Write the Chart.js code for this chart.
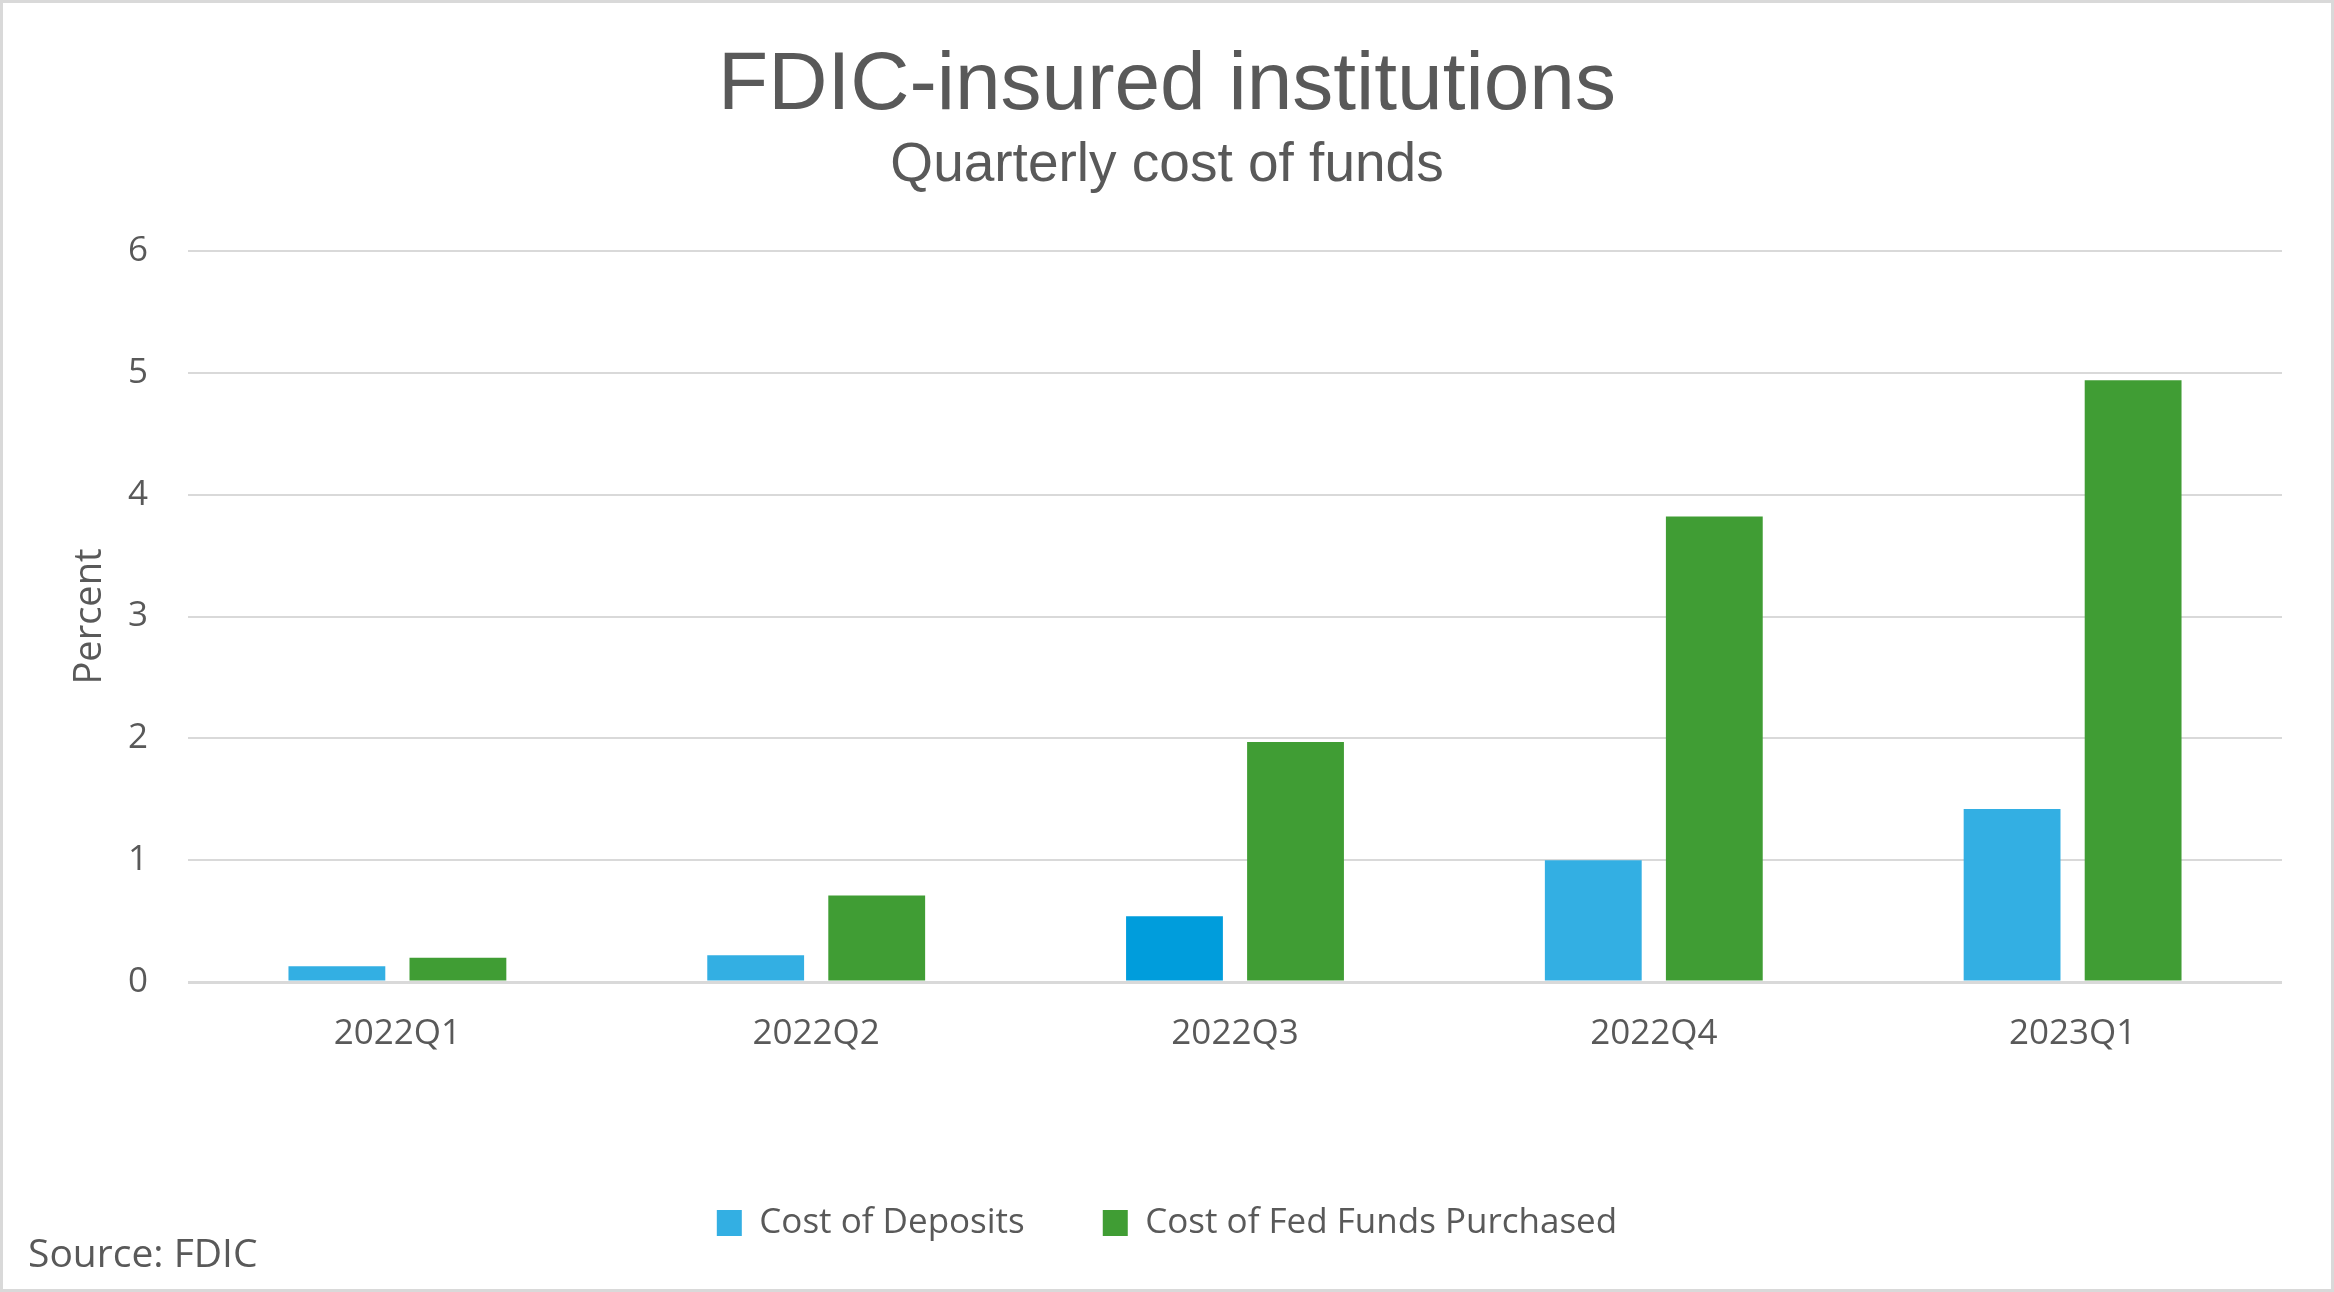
<!DOCTYPE html>
<html>
<head>
<meta charset="utf-8">
<script src="https://cdn.jsdelivr.net/npm/chart.js@4/dist/chart.umd.min.js"></script>
<style>
  html, body { margin: 0; padding: 0; background: #ffffff; }
  canvas { display: block; }
</style>
</head>
<body>
<canvas id="c" width="2334" height="1292"></canvas>
<script>
const categories = ['2022Q1', '2022Q2', '2022Q3', '2022Q4', '2023Q1'];
const costOfDeposits = [0.13, 0.22, 0.54, 1.00, 1.42];
const costOfFedFunds = [0.20, 0.71, 1.97, 3.82, 4.94];
const depositColors = ['#33AFE3', '#33AFE3', '#009DDC', '#33AFE3', '#33AFE3'];
const seriesNames = ['Cost of Deposits', 'Cost of Fed Funds Purchased'];

const textColor = '#595959';
const gridColor = '#d9d9d9';

const framePlugin = {
  id: 'frame',
  beforeDraw(chart) {
    const ctx = chart.ctx;
    ctx.save();
    ctx.fillStyle = '#ffffff';
    ctx.fillRect(0, 0, chart.width, chart.height);
    ctx.restore();
  },
  afterDraw(chart) {
    const ctx = chart.ctx;
    ctx.save();
    ctx.strokeStyle = gridColor;
    ctx.lineWidth = 3;
    ctx.strokeRect(1.5, 1.5, chart.width - 3, chart.height - 3);
    ctx.fillStyle = textColor;
    ctx.font = '39px "Open Sans"';
    ctx.textBaseline = 'middle';
    ctx.textAlign = 'left';
    ctx.fillText('Source: FDIC', 28, 1256);
    ctx.restore();
  }
};

new Chart(document.getElementById('c'), {
  type: 'bar',
  data: {
    labels: categories,
    datasets: [
      { label: seriesNames[0], data: costOfDeposits, backgroundColor: depositColors, borderWidth: 0, yAxisID: 'y' },
      { label: seriesNames[1], data: costOfFedFunds, backgroundColor: '#409D34', borderWidth: 0, yAxisID: 'y' }
    ]
  },
  options: {
    responsive: false,
    animation: false,
    devicePixelRatio: 1,
    categoryPercentage: 0.578,
    barPercentage: 0.8,
    layout: { padding: { left: 0, right: 0, top: 0, bottom: 41.5 } },
    plugins: {
      title: {
        display: true,
        text: 'FDIC-insured institutions',
        color: textColor,
        font: { family: '"Liberation Sans", Arial, sans-serif', size: 82, weight: 'normal', lineHeight: 1 },
        padding: { top: 45, bottom: 10 }
      },
      subtitle: {
        display: true,
        text: 'Quarterly cost of funds',
        color: textColor,
        font: { family: '"Liberation Sans", Arial, sans-serif', size: 55, weight: 'normal', lineHeight: 1 },
        padding: { top: 1, bottom: 58 }
      },
      legend: {
        display: true,
        position: 'bottom',
        labels: {
          color: textColor,
          font: { family: '"Open Sans"', size: 35 },
          boxWidth: 25,
          boxHeight: 26,
          padding: 78
        }
      },
      tooltip: { enabled: false }
    },
    scales: {
      x: {
        grid: { display: false, drawTicks: false },
        border: { display: false },
        ticks: { color: textColor, font: { family: '"Open Sans"', size: 35 }, padding: 31 },
        afterFit(scale) { scale.height = 145.5; }
      },
      y: {
        position: 'left',
        min: 0,
        max: 6,
        grid: {
          color: gridColor,
          lineWidth: (ctx) => (ctx.tick && ctx.tick.value === 0 ? 3 : 2),
          drawTicks: false
        },
        border: { display: false },
        ticks: { stepSize: 1, color: textColor, font: { family: '"Open Sans"', size: 35 }, padding: 40 },
        title: {
          display: true,
          text: 'Percent',
          color: textColor,
          font: { family: '"Open Sans"', size: 38 },
          padding: { top: 67, bottom: 0 }
        },
        afterFit(scale) { scale.width = 188; }
      },
      yRight: {
        position: 'right',
        display: true,
        min: 0,
        max: 6,
        grid: { display: false, drawTicks: false },
        border: { display: false },
        ticks: { display: false },
        afterFit(scale) { scale.width = 52; }
      }
    }
  },
  plugins: [framePlugin]
});
</script>
</body>
</html>
